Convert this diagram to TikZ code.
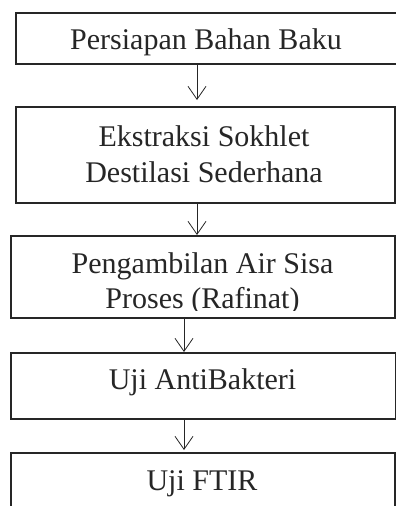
\documentclass[tikz,border=0pt]{standalone}
\usepackage{fontspec}
\setmainfont{Liberation Serif}
\usetikzlibrary{arrows.meta}
\definecolor{ink}{HTML}{262626}
\begin{document}
\begin{tikzpicture}[x=1pt, y=-1pt, line join=miter, >={Straight Barb[length=13pt,width=18pt]},
    kotak/.style={draw=ink, line width=1.5pt, inner sep=0pt, anchor=north west},
    teks/.style={text=ink, inner sep=0pt, font=\fontsize{30}{35.5}\selectfont, align=center},
    panah/.style={->, draw=ink, line width=0.8pt}]
    \useasboundingbox (0,0) rectangle (396,506);
    \clip (0,0) rectangle (396,506);
    % kotak-kotak alur
    \path
    (15,12) node[kotak, minimum width=385pt, minimum height=51pt] (persiapan) {}
    (15,106) node[kotak, minimum width=379pt, minimum height=96pt] (ekstraksi) {}
    (10,235) node[kotak, minimum width=384pt, minimum height=82pt] (rafinat) {}
    (10,352) node[kotak, minimum width=385pt, minimum height=66pt] (antibakteri) {}
    (10,452) node[kotak, minimum width=384pt, minimum height=80pt] (ftir) {};
    % isi teks
    \node[teks, anchor=base] (t-persiapan) at (206,49.3) {Persiapan Bahan Baku};
    \node[teks, anchor=north] (t-ekstraksi) at (204,125.5) {Ekstraksi Sokhlet\\Destilasi Sederhana};
    \begin{scope}
        \clip (rafinat.north west) rectangle ([yshift=8.5pt]rafinat.south east);
        \node[teks, anchor=north] (t-rafinat) at (202.5,252.2) {Pengambilan Air Sisa\\Proses (Rafinat)};
    \end{scope}
    \node[teks, anchor=base] (t-antibakteri) at (202.5,389) {Uji AntiBakteri};
    \node[teks, anchor=base] (t-ftir) at (202,490) {Uji FTIR};
    % panah
    \coordinate (k1) at (197,0);
    \coordinate (k2) at (184,0);
    \draw[panah, shorten >=6pt] (persiapan.south -| k1) -- (ekstraksi.north -| k1);
    \draw[panah] (ekstraksi.south -| k1) -- (rafinat.north -| k1);
    \draw[panah] (rafinat.south -| k2) -- (antibakteri.north -| k2);
    \draw[panah, shorten >=2pt] (antibakteri.south -| k2) -- (ftir.north -| k2);
\end{tikzpicture}
\end{document}
